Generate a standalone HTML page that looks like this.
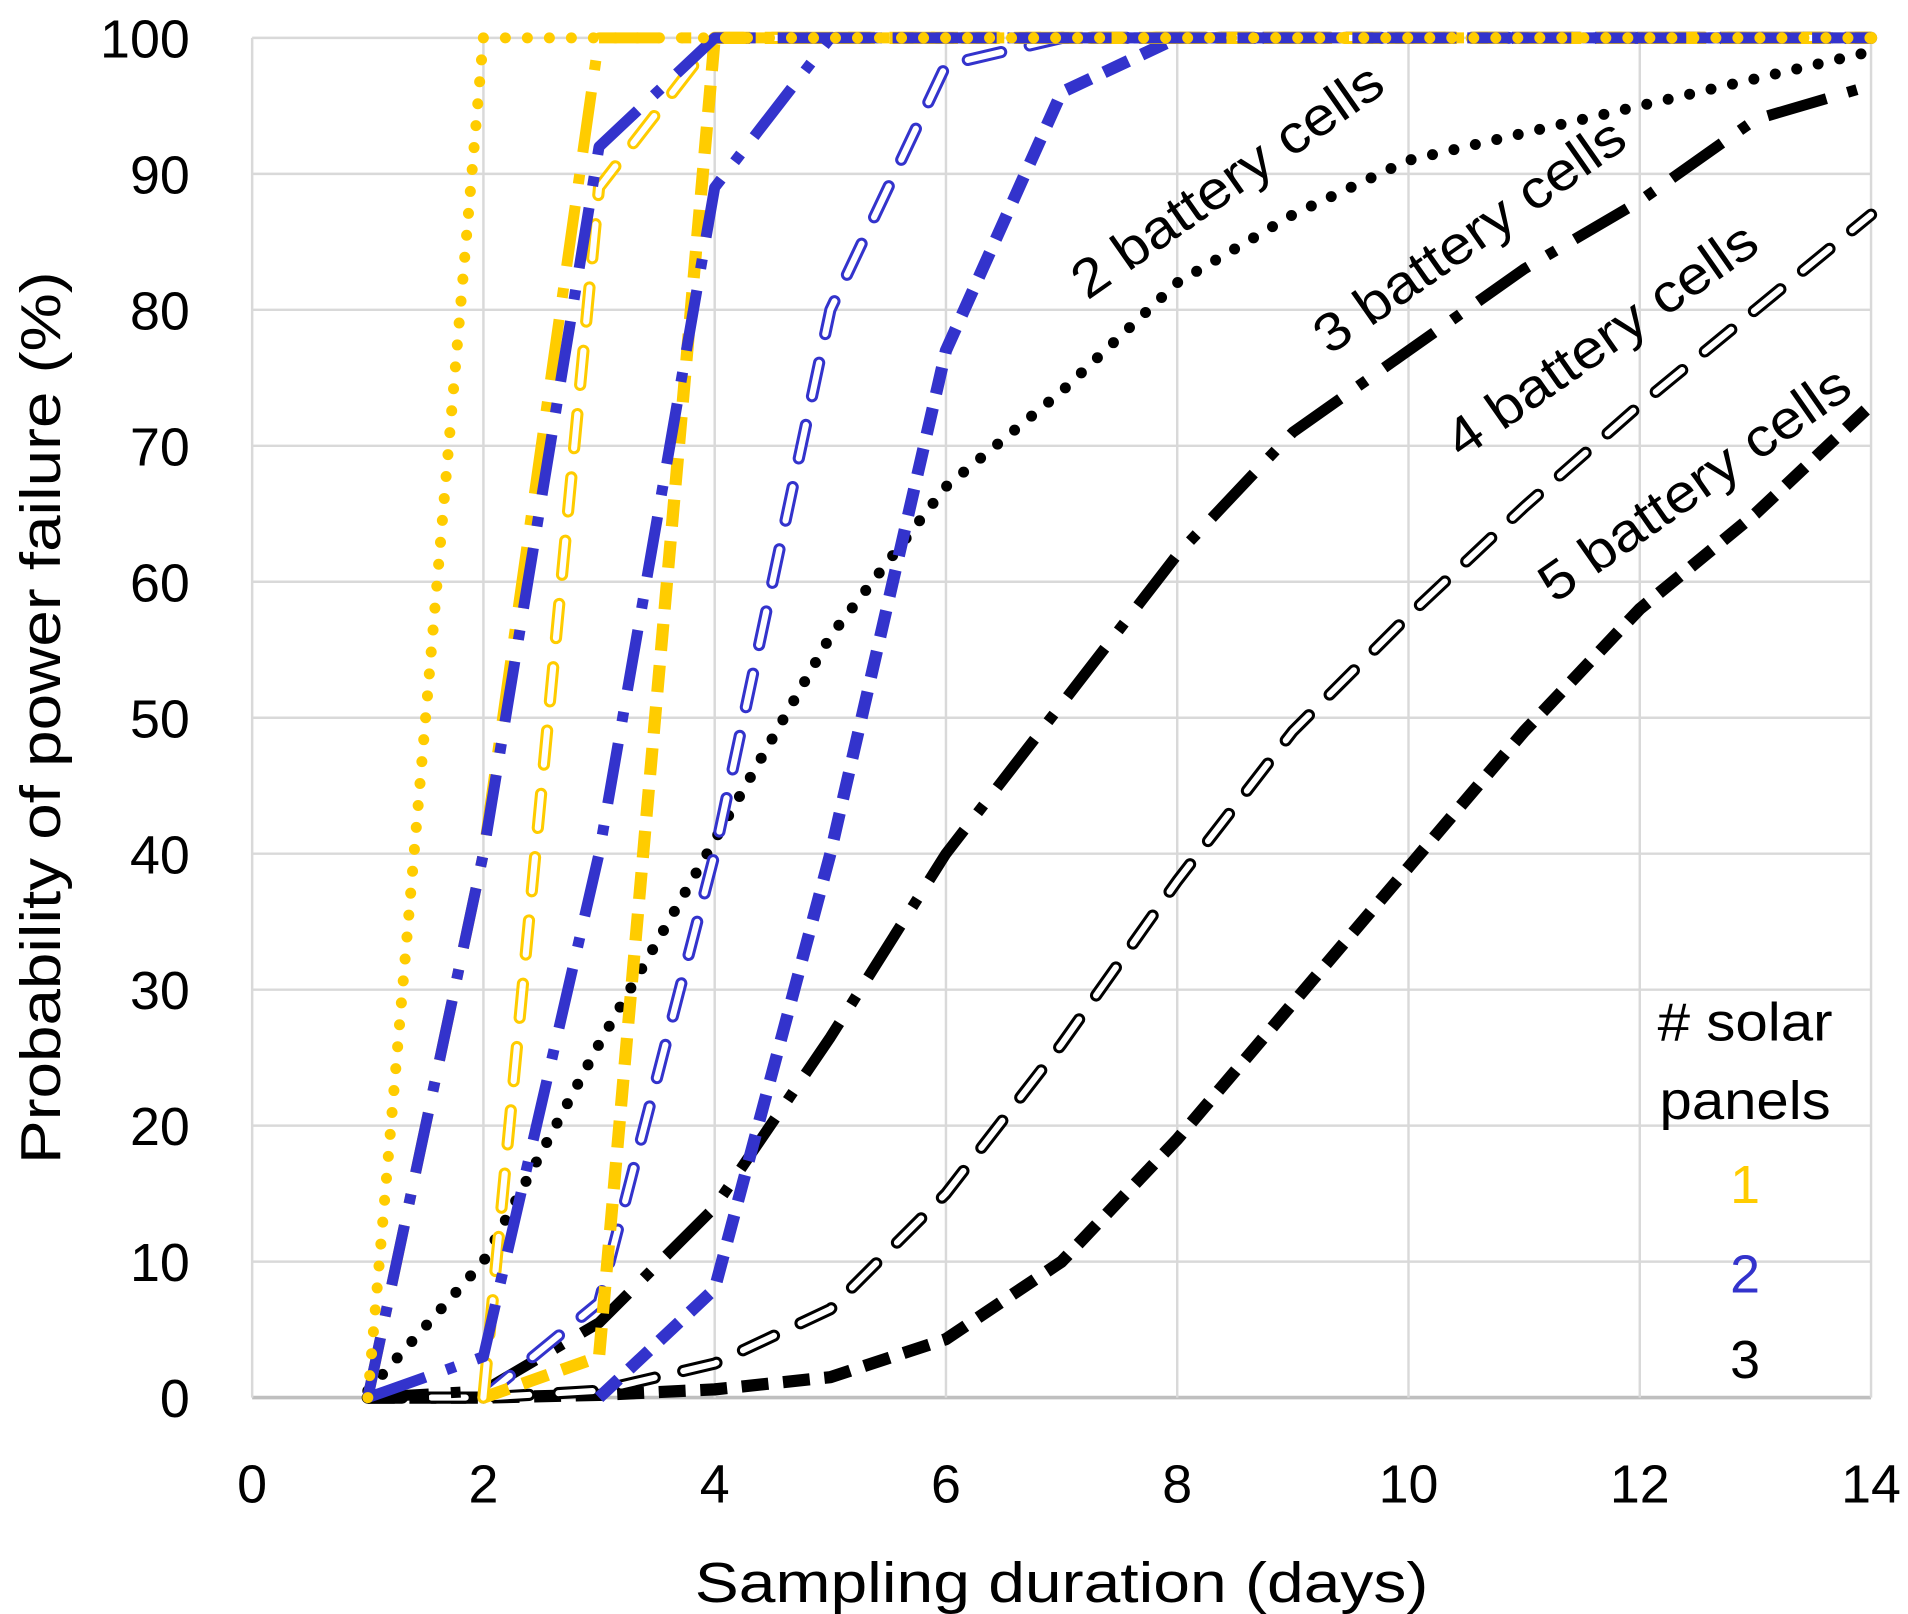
<!DOCTYPE html>
<html><head><meta charset="utf-8"><style>
html,body{margin:0;padding:0;background:#fff;}
svg{display:block;}
text{font-family:"Liberation Sans",sans-serif;}
</style></head><body>
<svg id="chart" width="1908" height="1614" viewBox="0 0 1560 1320" xmlns="http://www.w3.org/2000/svg">
<rect x="0" y="0" width="1560" height="1320" fill="#fff"/>
<g id="grid"></g>
<g id="series"></g>
<g id="ticks"></g>
<text x="868" y="1310" font-size="46" text-anchor="middle" textLength="600" lengthAdjust="spacingAndGlyphs">Sampling duration (days)</text>
<text x="0" y="0" font-size="46" text-anchor="middle" textLength="730" lengthAdjust="spacingAndGlyphs" transform="translate(49,587) rotate(-90)">Probability of power failure (%)</text>
<g font-size="44">
<text transform="translate(1012,160) rotate(-35)" text-anchor="middle" textLength="300" lengthAdjust="spacingAndGlyphs">2 battery cells</text>
<text transform="translate(1210,205) rotate(-35)" text-anchor="middle" textLength="300" lengthAdjust="spacingAndGlyphs">3 battery cells</text>
<text transform="translate(1318,290) rotate(-35)" text-anchor="middle" textLength="300" lengthAdjust="spacingAndGlyphs">4 battery cells</text>
<text transform="translate(1394,408) rotate(-35)" text-anchor="middle" textLength="300" lengthAdjust="spacingAndGlyphs">5 battery cells</text>
</g>
<g font-size="44" text-anchor="middle">
<text x="1427" y="851" textLength="143" lengthAdjust="spacingAndGlyphs"># solar</text>
<text x="1427" y="915" textLength="140" lengthAdjust="spacingAndGlyphs">panels</text>
<text x="1427" y="984" fill="#FFCC00">1</text>
<text x="1427" y="1057" fill="#3333CC">2</text>
<text x="1427" y="1127" fill="#000">3</text>
</g>
</svg>
<script>
const days = [1,2,3,4,5,6,7,8,9,10,11,12,13,14];
const xTicks = [0,2,4,6,8,10,12,14];
const yTicks = [0,10,20,30,40,50,60,70,80,90,100];
// panel 1 (yellow)
const y2 = [0,100,100,100,100,100,100,100,100,100,100,100,100,100];
const y3 = [0,40,100,100,100,100,100,100,100,100,100,100,100,100];
const y4 = [null,0,89,100,100,100,100,100,100,100,100,100,100,100];
const y5 = [null,0,3,100,100,100,100,100,100,100,100,100,100,100];
// panel 2 (blue)
const b2 = [0,40,92,100,100,100,100,100,100,100,100,100,100,100];
const b3 = [0,3,40,89,100,100,100,100,100,100,100,100,100,100];
const b4 = [null,0,7,40,80,98,100,100,100,100,100,100,100,100];
const b5 = [null,null,0,8,40,77,96,100,100,100,100,100,100,100];
// panel 3 (black)
const k2 = [0.5,10,26,41,56,67,74,82,87,91,93,95,97,99];
const k3 = [0,0.5,5.5,14,26.5,40,51,62,71,77,83,88,94,96.5];
const k4 = [0,0,0.5,2.5,6.5,15,26,38,49,57.5,65.5,73,80,87];
const k5 = [0,0,0.2,0.6,1.5,4.3,10,19,29,39,49,58,65,73];

const X0=206, X1=1530, Y0=1143, Y1=31;
const xs = d => X0 + d*(X1-X0)/14;
const ys = p => Y0 - p*(Y0-Y1)/100;
const NS="http://www.w3.org/2000/svg";
function mk(tag, parent){const e=document.createElementNS(NS,tag);parent.appendChild(e);return e;}

const grid=document.getElementById('grid');
yTicks.forEach(t=>{const l=mk('line',grid);


l.setAttribute('x1',X0);l.setAttribute('x2',X1);l.setAttribute('y1',ys(t));l.setAttribute('y2',ys(t));
l.setAttribute('stroke',t===0?'#bfbfbf':'#d9d9d9');l.setAttribute('stroke-width',t===0?3:2);});
xTicks.forEach(t=>{const l=mk('line',grid);


l.setAttribute('x1',xs(t));l.setAttribute('x2',xs(t));l.setAttribute('y1',Y1);l.setAttribute('y2',Y0);
l.setAttribute('stroke','#d9d9d9');l.setAttribute('stroke-width',2);});

const ticks=document.getElementById('ticks');
yTicks.forEach(t=>{const e=mk('text',ticks);


e.setAttribute('x',155);e.setAttribute('y',ys(t)+16);e.setAttribute('text-anchor','end');e.setAttribute('font-size','44');e.textContent=t;});
xTicks.forEach(t=>{const e=mk('text',ticks);


e.setAttribute('x',xs(t));e.setAttribute('y',1229);e.setAttribute('text-anchor','middle');e.setAttribute('font-size','44');e.textContent=t;});

function pathOf(vals){let d='';let started=false;
vals.forEach((v,i)=>{if(v===null)return;d+=(started?'L':'M')+xs(days[i]).toFixed(1)+' '+ys(v).toFixed(1);started=true;});return d;}

const sg=document.getElementById('series');
const styles={
 dot:{w:9,dash:'0 18',cap:'round'},
 dashdot:{w:9,dash:'50 18 8 18',cap:'butt'},
 hollow:{w:10,dash:'28 24',cap:'round',hollow:true},
 dashed:{w:10,dash:'22 12',cap:'butt'}
};
function draw(vals,color,style,name){
 const s=styles[style];const d=pathOf(vals);
 const p=mk('path',sg);
 
 
 p.setAttribute('d',d);p.setAttribute('fill','none');p.setAttribute('stroke',color);
 p.setAttribute('stroke-width',s.w);p.setAttribute('stroke-dasharray',s.dash);p.setAttribute('stroke-linecap',s.cap);p.setAttribute('stroke-linejoin','round');
 if(s.hollow){const q=mk('path',sg);
  
  
  q.setAttribute('d',d);q.setAttribute('fill','none');q.setAttribute('stroke','#fff');
  q.setAttribute('stroke-width',s.w-5);q.setAttribute('stroke-dasharray',s.dash);q.setAttribute('stroke-linecap','round');q.setAttribute('stroke-linejoin','round');}
}
const K='#000',B='#3333CC',Yc='#FFCC00';
draw(k5,K,'dashed','series-3panel-5cells');
draw(k4,K,'hollow','series-3panel-4cells');
draw(k3,K,'dashdot','series-3panel-3cells');
draw(k2,K,'dot','series-3panel-2cells');
draw(b5,B,'dashed','series-2panel-5cells');
draw(b4,B,'hollow','series-2panel-4cells');
draw(y5,Yc,'dashed','series-1panel-5cells');
draw(y4,Yc,'hollow','series-1panel-4cells');
draw(y3,Yc,'dashdot','series-1panel-3cells');
draw(b3,B,'dashdot','series-2panel-3cells');
draw(b2,B,'dashdot','series-2panel-2cells');
draw(y2,Yc,'dot','series-1panel-2cells');
</script>
</body></html>
